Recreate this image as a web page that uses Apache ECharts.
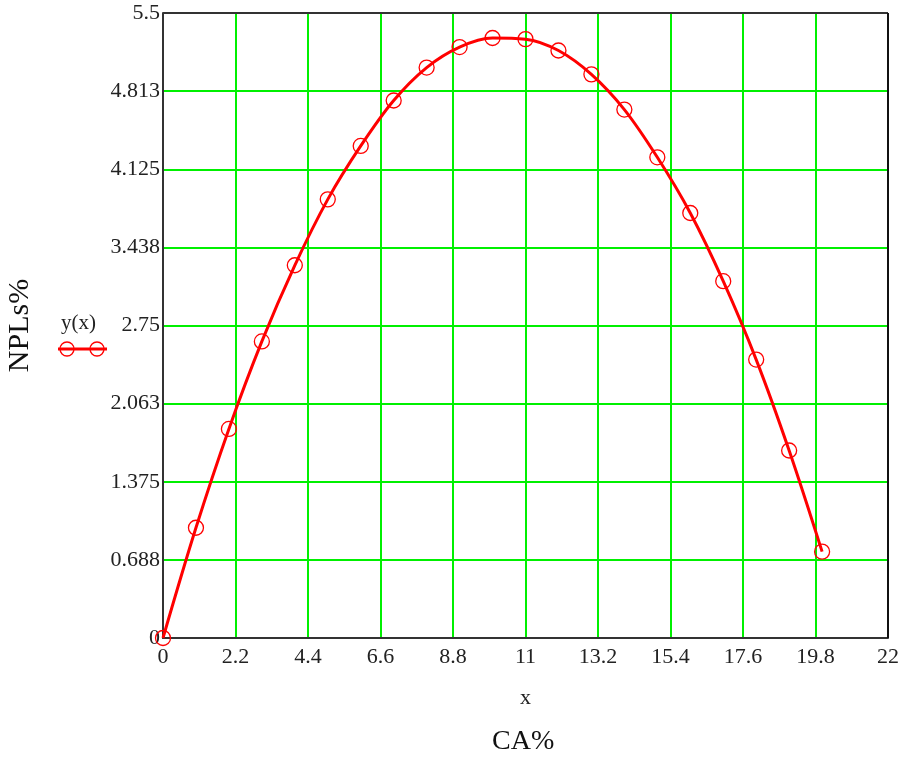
<!DOCTYPE html>
<html>
<head>
<meta charset="utf-8">
<script src="https://cdn.jsdelivr.net/npm/echarts@6/dist/echarts.min.js"></script>
<style>
  html, body { margin: 0; padding: 0; background: #fff; }
  #chart { width: 907px; height: 759px; }
</style>
</head>
<body>
<div id="chart"></div>
<script>
// CA% values and the fitted NPLs% points
const caValues = [0, 1, 2, 3, 4, 5, 6, 7, 8, 9, 10, 11, 12, 13, 14, 15, 16, 17, 18, 19, 20];
const nplValues = [0, 0.97, 1.84, 2.61, 3.28, 3.86, 4.33, 4.73, 5.02, 5.20, 5.28, 5.27, 5.17, 4.96, 4.65, 4.23, 3.74, 3.14, 2.45, 1.65, 0.76];
const legendLabel = 'y(x)';

const serif = 'Liberation Serif';
const chart = echarts.init(document.getElementById('chart'));

const points = caValues.map((x, i) => [x, nplValues[i]]);

const option = {
  animation: false,
  grid: { left: 163, right: 19, top: 13, bottom: 121, containLabel: false, outerBoundsMode: 'none' },
  xAxis: {
    type: 'value',
    min: 0, max: 22, interval: 2.2,
    name: 'x',
    nameLocation: 'middle',
    nameGap: 49,
    nameTextStyle: { fontFamily: serif, fontSize: 22, color: '#222' },
    axisLine: { show: true, onZero: false, lineStyle: { color: '#333', width: 2 } },
    axisTick: { show: false },
    axisLabel: {
      margin: 8,
      fontFamily: serif, fontSize: 22, color: '#222',
      formatter: v => String(parseFloat(v.toFixed(1)))
    },
    splitLine: { show: true, lineStyle: { color: '#00f000', width: 2 } }
  },
  yAxis: {
    type: 'value',
    min: 0, max: 5.5, interval: 0.6875,
    name: 'NPLs%',
    nameLocation: 'middle',
    nameGap: 128,
    nameTextStyle: { fontFamily: serif, fontSize: 30, color: '#111' },
    axisLine: { show: true, lineStyle: { color: '#333', width: 2 } },
    axisTick: { show: false },
    axisLabel: {
      margin: 3,
      fontFamily: serif, fontSize: 22, color: '#222',
      formatter: v => String(parseFloat(v.toFixed(3)))
    },
    splitLine: { show: true, lineStyle: { color: '#00f000', width: 2 } }
  },
  graphic: [
    // frame on top and right
    { type: 'line', shape: { x1: 163, y1: 13, x2: 888, y2: 13 }, style: { stroke: '#333', lineWidth: 2 }, z: 10 },
    { type: 'line', shape: { x1: 888, y1: 13, x2: 888, y2: 638 }, style: { stroke: '#111', lineWidth: 2 }, z: 10 },
    // legend
    { type: 'text', left: 61, top: 313, style: { text: legendLabel, font: '21px ' + serif, fill: '#222' } },
    { type: 'line', shape: { x1: 58, y1: 349, x2: 107, y2: 349 }, style: { stroke: '#ff0000', lineWidth: 3 } },
    { type: 'circle', shape: { cx: 67, cy: 349, r: 7 }, style: { fill: 'none', stroke: '#ff0000', lineWidth: 1.3 } },
    { type: 'circle', shape: { cx: 97, cy: 349, r: 7 }, style: { fill: 'none', stroke: '#ff0000', lineWidth: 1.3 } },
    // x caption
    { type: 'text', left: 492, top: 728, style: { text: 'CA%', font: '28px ' + serif, fill: '#111' } }
  ],
  series: [
    {
      name: legendLabel,
      type: 'line',
      data: points,
      smooth: 0.35,
      symbol: 'circle',
      symbolSize: 15,
      showAllSymbol: true,
      lineStyle: { color: '#ff0000', width: 3 },
      itemStyle: { color: 'rgba(0,0,0,0)', borderColor: '#ff0000', borderWidth: 1.3 }
    }
  ]
};

chart.setOption(option);
</script>
</body>
</html>
